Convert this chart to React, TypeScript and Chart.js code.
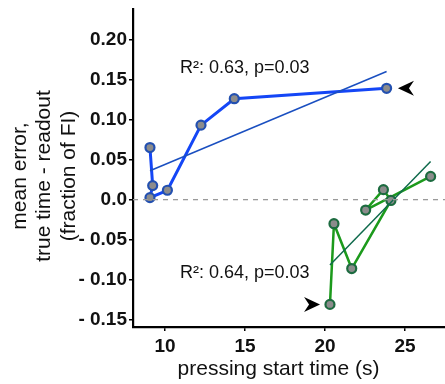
import React, { useEffect, useRef } from "react";
import { Chart, registerables } from "chart.js";

Chart.register(...registerables);

// ---- data ----
const blueX = [9.06, 9.23, 9.06, 10.15, 12.25, 14.33, 23.85];
const blueY = [0.065, 0.0175, 0.0025, 0.0117, 0.093, 0.126, 0.139];
const greenX = [20.31, 20.56, 21.67, 24.12, 23.65, 22.54, 26.6];
const greenY = [-0.1308, -0.03, -0.086, -0.001, 0.0125, -0.013, 0.029];
const blueFitX = [9.06, 23.85];
const blueFitY = [0.036, 0.16];
const greenFitX = [20.31, 26.6];
const greenFitY = [-0.0816, 0.0475];
const xTicks = [10, 15, 20, 25];
const xTickLabels = ["10", "15", "20", "25"];
const yTicks = [-0.15, -0.1, -0.05, 0, 0.05, 0.1, 0.15, 0.2];
const yTickLabels = ["- 0.15", "- 0.10", "- 0.05", "0.0", "0.05", "0.10", "0.15", "0.20"];
const xRange = [8.0, 27.5];
const yRange = [-0.159, 0.238];
const annoText = ["R\u00b2: 0.63, p=0.03", "R\u00b2: 0.64, p=0.03"];
const annoX = [10.94, 10.94];
const annoY = [0.1646, -0.0916];
const arrowX = [24.56, 19.69];
const arrowY = [0.139, -0.1308];
const arrowDir = [-1, 1];
const xTitle = "pressing start time (s)";
const yTitle = ["mean error,", "true time - readout", "(fraction of FI)"];

const FONT = "'Liberation Sans', Arial, Helvetica, sans-serif";

const pts = (xs: number[], ys: number[]) => xs.map((x, i) => ({ x, y: ys[i] }));

const overlay = {
  id: "overlay",
  afterDraw(chart: any) {
    const ctx = chart.ctx;
    const xs = chart.scales.x;
    const ys = chart.scales.y;
    ctx.save();
    // annotations
    ctx.fillStyle = "#111";
    ctx.font = `18px ${FONT}`;
    ctx.textAlign = "left";
    ctx.textBaseline = "middle";
    annoText.forEach((t, i) => {
      ctx.fillText(t, xs.getPixelForValue(annoX[i]), ys.getPixelForValue(annoY[i]));
    });
    // arrowheads
    ctx.fillStyle = "#000";
    arrowX.forEach((ax, i) => {
      const px = xs.getPixelForValue(ax);
      const py = ys.getPixelForValue(arrowY[i]);
      const d = arrowDir[i];
      ctx.beginPath();
      ctx.moveTo(px, py);
      ctx.lineTo(px - d * 16, py - 7.5);
      ctx.lineTo(px - d * 11, py);
      ctx.lineTo(px - d * 16, py + 7.5);
      ctx.closePath();
      ctx.fill();
    });
    // titles
    ctx.fillStyle = "#111";
    ctx.font = `21px ${FONT}`;
    ctx.textAlign = "center";
    ctx.textBaseline = "middle";
    ctx.fillText(xTitle, 278.5, 369);
    ctx.translate(0, 176);
    ctx.rotate(-Math.PI / 2);
    yTitle.forEach((t, i) => {
      ctx.fillText(t, 0, 20 + i * 24.5);
    });
    ctx.restore();
  },
};

export default function App() {
  const ref = useRef<HTMLCanvasElement | null>(null);
  useEffect(() => {
    document.body.style.margin = "0";
    const chart = new Chart(ref.current as HTMLCanvasElement, {
      type: "scatter",
      data: {
        datasets: [
          {
            data: [
              { x: xRange[0], y: 0 },
              { x: xRange[1], y: 0 },
            ],
            showLine: true,
            borderColor: "#9a9a9a",
            borderWidth: 1.3,
            borderDash: [5, 5],
            pointRadius: 0,
          },
          {
            data: pts(blueFitX, blueFitY),
            showLine: true,
            borderColor: "#1a4fc0",
            borderWidth: 1.5,
            pointRadius: 0,
          },
          {
            data: pts(greenFitX, greenFitY),
            showLine: true,
            borderColor: "#0f6a4c",
            borderWidth: 1.5,
            pointRadius: 0,
          },
          {
            data: pts(blueX, blueY),
            showLine: true,
            borderColor: "#1446f6",
            borderWidth: 3,
            pointRadius: 4.5,
            pointBorderWidth: 2.2,
            pointBackgroundColor: "#8c8c8c",
            pointBorderColor: "#2350b0",
          },
          {
            data: pts(greenX, greenY),
            showLine: true,
            borderColor: "#1c9a1c",
            borderWidth: 2.5,
            pointRadius: 4.5,
            pointBorderWidth: 2.2,
            pointBackgroundColor: "#8c8c8c",
            pointBorderColor: "#1d6b40",
          },
        ],
      },
      options: {
        animation: false,
        responsive: false,
        devicePixelRatio: 1,
        layout: { autoPadding: false, padding: { top: 9, right: 0, left: 0, bottom: 0 } },
        plugins: { legend: { display: false }, tooltip: { enabled: false } },
        scales: {
          x: {
            type: "linear",
            min: xRange[0],
            max: xRange[1],
            afterBuildTicks: (s: any) => {
              s.ticks = xTicks.map((v) => ({ value: v }));
            },
            afterFit: (s: any) => {
              s.height = 57;
              s.paddingLeft = 0;
              s.paddingRight = 0;
            },
            border: { display: true, color: "#000", width: 2.2 },
            grid: { drawOnChartArea: false, drawTicks: true, tickLength: 4, color: "#000", lineWidth: 1.5 },
            ticks: {
              color: "#111",
              font: { family: FONT, size: 19, weight: "bold" },
              padding: 4,
              maxRotation: 0,
              callback: (v: any) => {
                const i = xTicks.indexOf(v);
                return i >= 0 ? xTickLabels[i] : "";
              },
            },
          },
          y: {
            type: "linear",
            min: yRange[0],
            max: yRange[1],
            afterBuildTicks: (s: any) => {
              s.ticks = yTicks.map((v) => ({ value: v }));
            },
            afterFit: (s: any) => {
              s.width = 133;
              s.paddingTop = 0;
              s.paddingBottom = 0;
            },
            border: { display: true, color: "#000", width: 2.2 },
            grid: { drawOnChartArea: false, drawTicks: true, tickLength: 4, color: "#000", lineWidth: 1.5 },
            ticks: {
              color: "#111",
              font: { family: FONT, size: 19, weight: "bold" },
              padding: 2,
              callback: (v: any) => {
                const i = yTicks.findIndex((t) => Math.abs(t - v) < 1e-9);
                return i >= 0 ? yTickLabels[i] : "";
              },
            },
          },
        },
      },
      plugins: [overlay],
    } as any);
    return () => chart.destroy();
  }, []);
  return (
    <div style={{ width: 445, height: 384 }}>
      <canvas ref={ref} width={445} height={384} style={{ display: "block" }} />
    </div>
  );
}
